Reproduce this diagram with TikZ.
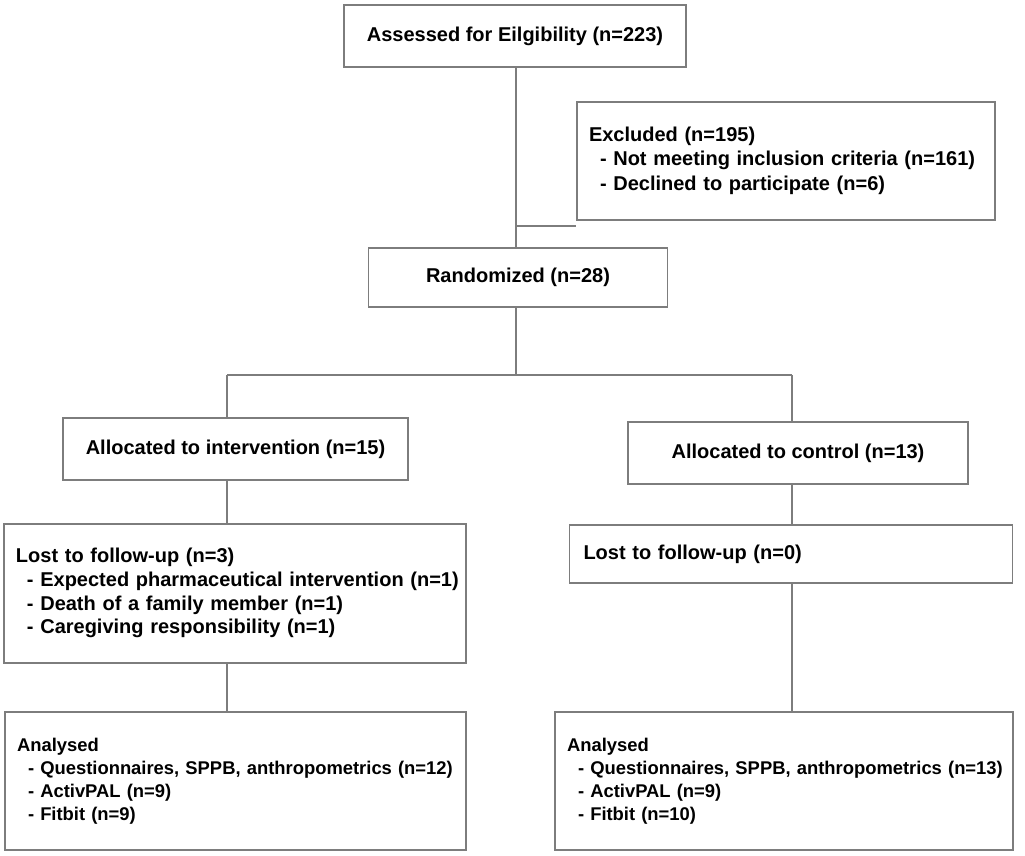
\documentclass[tikz,border=0pt]{standalone}
\usepackage{fontspec}
\setmainfont{Liberation Sans}
\definecolor{linegray}{RGB}{125,125,125}
\newcommand{\ind}{\hspace*{11pt}}
\begin{document}
\begin{tikzpicture}[x=1pt,y=-1pt,
  box/.style={draw=linegray, line width=1.3pt, inner sep=0pt, fill=white,
    font=\bfseries\fontsize{20}{23.8}\selectfont},
  cbox/.style={box, align=center},
  lbox/.style={box, align=left, inner xsep=12pt},
  conn/.style={draw=linegray, line width=1.3pt}]
\fill[white] (0,0) rectangle (1025,855);
\useasboundingbox (0,0) rectangle (1025,855);

\node[cbox, minimum width=342pt, minimum height=62pt] (assess) at (515,36) {Assessed for Eilgibility (n=223)};
\node[lbox, minimum height=118pt, text width=394pt, font=\bfseries\fontsize{20}{24.5}\selectfont] (excl) at (786,161)
  {\begin{tabular}{@{}l@{}}Excluded (n=195)\\ \ind- Not meeting inclusion criteria (n=161)\\ \ind- Declined to participate (n=6)\end{tabular}};
\node[cbox, minimum width=299pt, minimum height=59pt] (rand) at (518,277.5) {Randomized (n=28)};
\node[cbox, minimum width=345pt, minimum height=62pt] (interv) at (235.5,449) {Allocated to intervention (n=15)};
\node[cbox, minimum width=340pt, minimum height=62pt] (ctrl) at (798,453) {Allocated to control (n=13)};
\node[lbox, minimum height=139pt, text width=438pt] (lostL) at (235,593.5)
  {\begin{tabular}{@{}l@{}}Lost to follow-up (n=3)\\ \ind- Expected pharmaceutical intervention (n=1)\\ \ind- Death of a family member (n=1)\\ \ind- Caregiving responsibility (n=1)\end{tabular}};
\node[lbox, minimum height=58pt, text width=415pt, inner xsep=14pt] (lostR) at (791,554)
  {Lost to follow-up (n=0)};
\node[lbox, minimum height=138pt, text width=437pt, font=\bfseries\fontsize{18.4}{23}\selectfont] (anaL) at (235.5,781)
  {\begin{tabular}{@{}l@{}}Analysed\\ \ind- Questionnaires, SPPB, anthropometrics (n=12)\\ \ind- ActivPAL (n=9)\\ \ind- Fitbit (n=9)\end{tabular}};
\node[lbox, minimum height=138pt, text width=434pt, font=\bfseries\fontsize{18.4}{23}\selectfont] (anaR) at (784,781)
  {\begin{tabular}{@{}l@{}}Analysed\\ \ind- Questionnaires, SPPB, anthropometrics (n=13)\\ \ind- ActivPAL (n=9)\\ \ind- Fitbit (n=10)\end{tabular}};

\coordinate (top) at (516,67);
\coordinate (bj) at (516,226);
\coordinate (split) at (516,375);
\coordinate (sl) at (227,375);
\coordinate (sr) at (792,375);

\draw[conn] (top) -- (top |- rand.north);
\draw[conn] (bj) -- (bj -| excl.west);
\draw[conn] (top |- rand.south) -- (split);
\draw[conn] (sl) -- (sr);
\draw[conn] (sl) -- (sl |- interv.north);
\draw[conn] (sr) -- (sr |- ctrl.north);
\draw[conn] (sl |- interv.south) -- (sl |- lostL.north);
\draw[conn] (sr |- ctrl.south) -- (sr |- lostR.north);
\draw[conn] (sl |- lostL.south) -- (sl |- anaL.north);
\draw[conn] (sr |- lostR.south) -- (sr |- anaR.north);
\end{tikzpicture}
\end{document}
